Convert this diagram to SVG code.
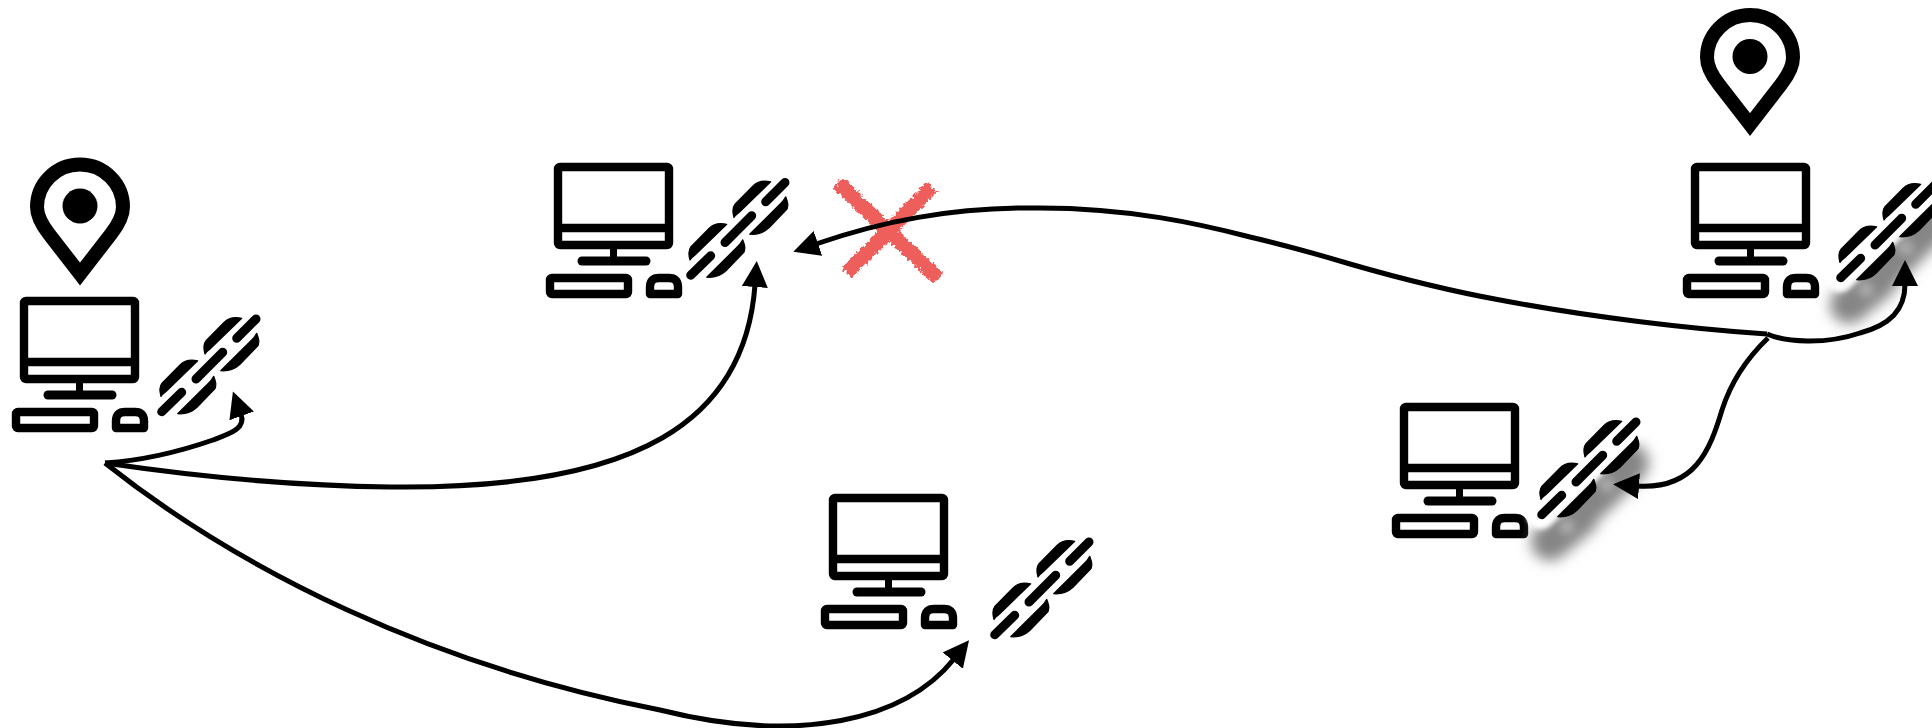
<svg xmlns="http://www.w3.org/2000/svg" width="1932" height="728" viewBox="0 0 1932 728">
<style>
.k{fill:none;stroke:#000;stroke-width:8.4;stroke-linejoin:round}
.bar{fill:none;stroke:#000;stroke-width:9;stroke-linecap:round}
.fill{fill:#000;stroke:#000;stroke-width:1.2;stroke-linejoin:round}
.edge{fill:none;stroke:#000;stroke-width:5;marker-end:url(#arrow)}
.pin{fill:none;stroke:#000;stroke-width:14;stroke-miterlimit:8}
.x{fill:none;stroke:#ee5f5b;stroke-width:14.500}
.sh{fill:none;stroke:#858585;stroke-width:38;stroke-linecap:round}
</style>
<defs>
<marker id="arrow" markerUnits="userSpaceOnUse" markerWidth="30" markerHeight="30" refX="2" refY="13" orient="auto"><path d="M0,0 L26,13 L0,26 Z" fill="#000"/></marker>
<filter id="blur" x="-50%" y="-50%" width="200%" height="200%"><feGaussianBlur stdDeviation="7"/></filter>
<filter id="soft" x="-50%" y="-50%" width="200%" height="200%"><feGaussianBlur stdDeviation="4"/></filter>
<filter id="mask" x="-50%" y="-50%" width="200%" height="200%"><feGaussianBlur stdDeviation="2.500"/></filter>
<filter id="raster" x="-5%" y="-5%" width="110%" height="110%"><feGaussianBlur stdDeviation="0.500"/></filter>
<filter id="chalk" x="-10%" y="-10%" width="120%" height="120%"><feTurbulence type="fractalNoise" baseFrequency="0.3" numOctaves="3" seed="4" result="n"/><feDisplacementMap in="SourceGraphic" in2="n" scale="7" xChannelSelector="R" yChannelSelector="G"/></filter>
<g id="computer" filter="url(#raster)">
<rect class="k" x="4" y="4" width="111" height="78" rx="2"/>
<path class="k" d="M4,65H115"/>
<rect x="56" y="84" width="7" height="10" fill="#000"/>
<path class="bar" d="M28,98H92"/>
<rect class="k" x="-4" y="115" width="78" height="16" rx="2"/>
<path class="k" d="M96,131V124Q96,115 105,115H115Q124,115 124,124V131Z"/>
</g>
<g id="chain" filter="url(#raster)">
<path class="bar" d="M176,82L202.700,55.300M216.700,41.300L236,22M141.700,114.700L161.700,95.300"/>
<path id="pu" class="fill" d="M185,57C183.300,51.300 183.300,47.300 186,43.700L204,25.300C207.300,22 213.300,19.300 221.700,21.300L190,52C187.300,54 186,55.300 185,57Z"/>
<path id="pl" class="fill" d="M236.700,36.300C239.300,43 239.300,45 238,48.700L220,67.300C215,72 208.300,74.300 200.700,73.700L231.700,43C234,41 235.500,38.500 236.700,36.300Z"/>
<use href="#pu" transform="translate(-44,42.500)"/>
<use href="#pl" transform="translate(-43,43)"/>
</g>
<g id="shadow">
<g filter="url(#blur)"><path class="sh" d="M150,141.700L180,116.700"/><path class="sh" d="M193,100L230,63"/></g>
<g filter="url(#soft)" fill="#fff" opacity=".3"><circle cx="167" cy="127" r="8"/><circle cx="207" cy="85" r="8"/></g>
<path d="M141,115L236,22" stroke="#fff" stroke-width="28" stroke-linecap="round" fill="none" filter="url(#mask)"/>
</g>
<path id="pinshape" class="pin" d="M0,68L-31,28C-38,19 -43,10 -43,1A43,42.500 0 1 1 43,1C43,10 38,19 31,28Z"/>
</defs>
<rect width="1932" height="728" fill="#fff"/>
<g id="computer-a"><use href="#computer" x="20" y="297"/><use href="#chain" x="20" y="297"/></g>
<g id="computer-b"><use href="#computer" x="554" y="163"/><use href="#chain" x="549" y="160.500"/></g>
<g id="computer-c"><use href="#computer" x="1691" y="163"/><use href="#shadow" x="1699" y="163"/><use href="#chain" x="1699" y="163"/></g>
<g id="computer-d"><use href="#computer" x="1400" y="403"/><use href="#shadow" x="1400" y="400"/><use href="#chain" x="1400" y="400"/></g>
<g id="computer-e"><use href="#computer" x="829" y="494"/><use href="#chain" x="853" y="520"/></g>
<g id="location-a"><use href="#pinshape" x="80" y="206"/><circle cx="80" cy="206" r="17.500"/></g>
<g id="location-c"><use href="#pinshape" x="1750" y="56.500"/><circle cx="1750" cy="56.500" r="17.500"/></g>
<g id="blocked"><path class="x" filter="url(#chalk)" d="M838,183L938,278M932,187L847,273"/></g>
<g id="connectors">
<path class="edge" d="M105,463C150,460 190,448 213,440C232,433 246,428 241,414"/>
<path class="edge" d="M105,463C200,477 300,486 390,487C640,490 745,420 755,285"/>
<path class="edge" d="M105,463C240,570 430,665 660,710C800,745 905,720 954,659"/>
<path class="edge" d="M1767,334C1690,329 1590,317 1500,300C1445,290 1395,277 1350,264C1310,252 1280,244 1250,237C1200,224 1130,208 1040,208C950,207 880,222 816,244"/>
<path class="edge" d="M1767,334C1785,342 1825,345 1860,333C1890,325 1905,310 1905,284"/>
<path class="edge" d="M1768,338C1745,360 1730,385 1722,410C1710,450 1695,490 1637,486"/>
</g>
</svg>
